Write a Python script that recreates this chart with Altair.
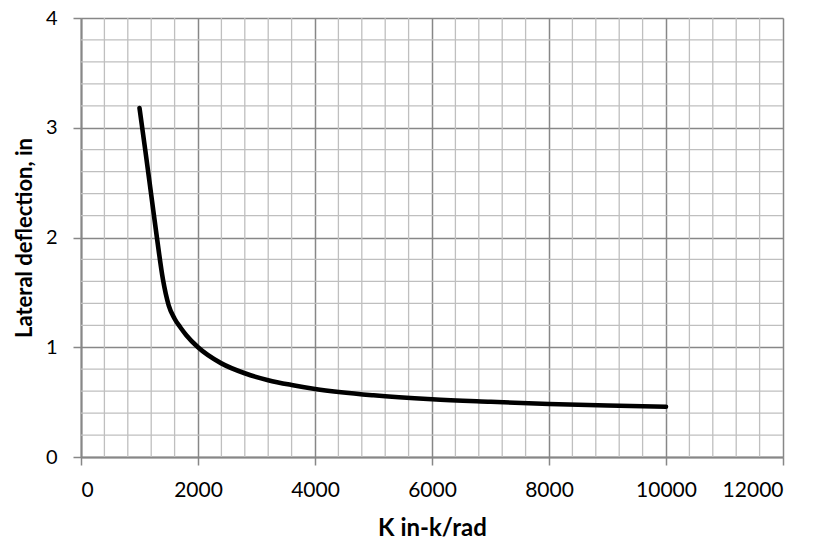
import altair as alt
import pandas as pd

# Curve values
k_vals = [1000, 1100, 1200, 1300, 1400, 1500, 1600, 1700, 1800, 2000, 2400, 2800,
          3200, 3600, 4000, 5000, 6000, 7000, 8000, 9000, 10000]
defl = [3.18, 2.79, 2.39, 1.99, 1.62, 1.38, 1.26, 1.18, 1.11, 1.00, 0.853, 0.763,
        0.70, 0.656, 0.62, 0.562, 0.526, 0.503, 0.483, 0.469, 0.458]

# Axis tick positions
x_major = [0, 2000, 4000, 6000, 8000, 10000, 12000]
y_major = [0, 1, 2, 3, 4]
x_minor = [v for v in range(400, 12000, 400) if v % 2000 != 0]
y_minor = [0.2, 0.4, 0.6, 0.8, 1.2, 1.4, 1.6, 1.8, 2.2, 2.4, 2.6, 2.8,
           3.2, 3.4, 3.6, 3.8]

FONT = "Lato"
MAJOR = "#878787"
MINOR = "#bfbfbf"

xs = alt.Scale(domain=[0, 12000], nice=False)
ys = alt.Scale(domain=[0, 4], nice=False)

x_axis = alt.Axis(values=x_major, format="d", grid=True, gridColor=MAJOR, gridWidth=1.5,
                  domainColor=MAJOR, domainWidth=2, tickColor=MAJOR, tickWidth=1.5,
                  tickSize=8, labelFont=FONT, labelFontSize=21, labelColor="#000000",
                  labelPadding=14, title="K in-k/rad", titleFont=FONT,
                  titleFontSize=24, titleFontWeight="bold", titleColor="#000000",
                  titlePadding=16)
y_axis = alt.Axis(values=y_major, format="d", grid=True, gridColor=MAJOR, gridWidth=1.5,
                  domainColor=MAJOR, domainWidth=2, tickColor=MAJOR, tickWidth=1.5,
                  tickSize=8, labelFont=FONT, labelFontSize=20, labelColor="#000000",
                  labelPadding=16, title="Lateral deflection, in", titleFont=FONT,
                  titleFontSize=22, titleFontWeight="bold", titleColor="#000000",
                  titlePadding=9)

minor_x = alt.Chart(pd.DataFrame({"k": x_minor})).mark_rule(
    color=MINOR, strokeWidth=1.3).encode(x=alt.X("k:Q", scale=xs, axis=x_axis))
minor_y = alt.Chart(pd.DataFrame({"d": y_minor})).mark_rule(
    color=MINOR, strokeWidth=1.3).encode(y=alt.Y("d:Q", scale=ys, axis=y_axis))

curve = alt.Chart(pd.DataFrame({"k": k_vals, "d": defl})).mark_line(
    color="#000000", strokeWidth=4.6, interpolate="monotone", strokeCap="round"
).encode(
    x=alt.X("k:Q", scale=xs, axis=x_axis),
    y=alt.Y("d:Q", scale=ys, axis=y_axis),
)

chart = alt.layer(minor_x, minor_y, curve).properties(
    width=702, height=439,
    autosize=alt.AutoSizeParams(type="none"),
    padding={"left": 73, "top": 10, "right": 20, "bottom": 86},
).configure_view(stroke=None).configure(background="#ffffff")

chart.save("out.html", embed_options={"renderer": "svg", "actions": False})
